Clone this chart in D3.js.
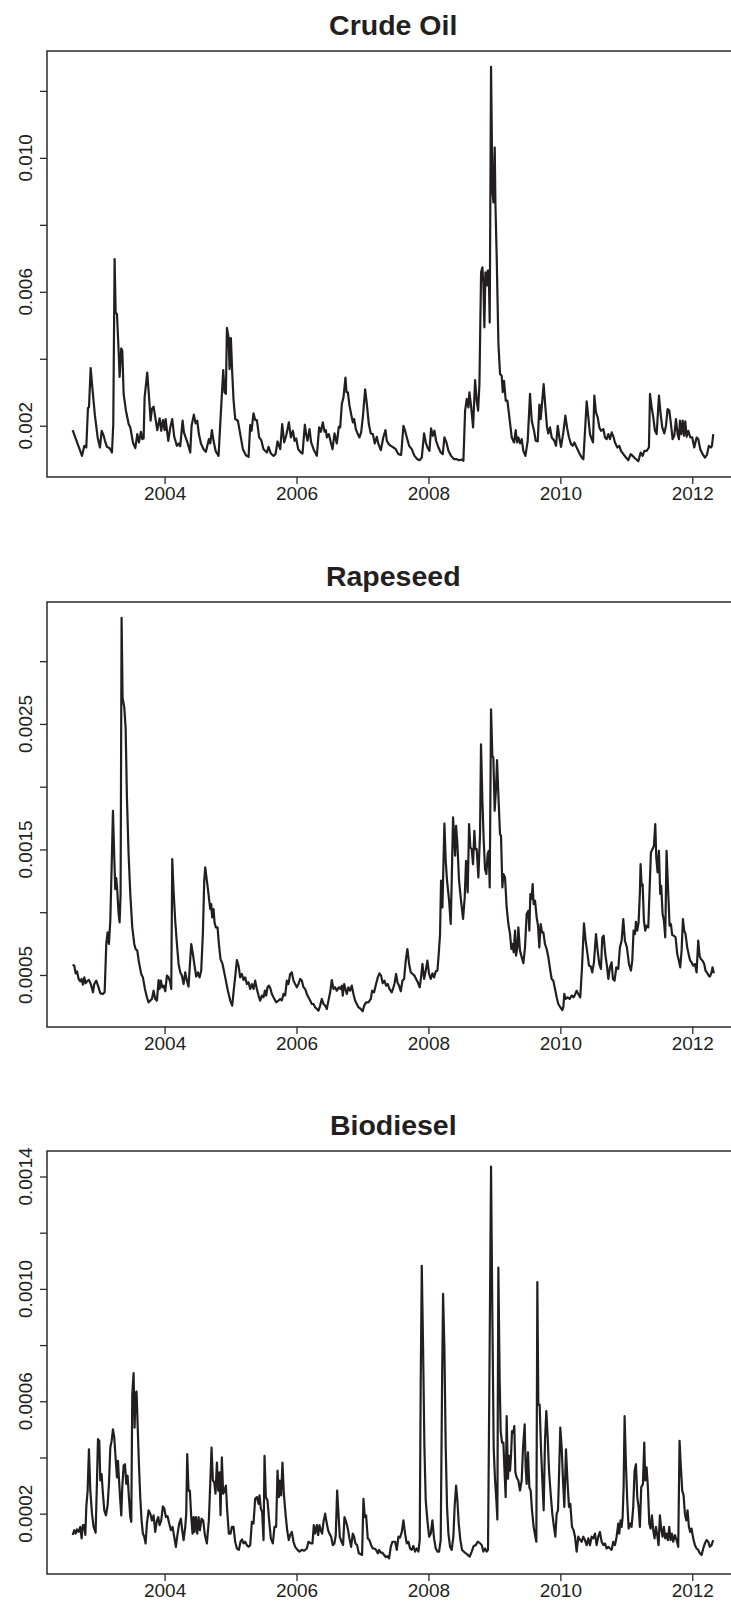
<!DOCTYPE html>
<html>
<head>
<meta charset="utf-8">
<script src="https://cdn.jsdelivr.net/npm/d3@7/dist/d3.min.js"></script>
<style>
  html, body { margin: 0; padding: 0; background: #fff; }
  svg { display: block; font-family: "Liberation Sans", Arial, Helvetica, sans-serif; }
</style>
</head>
<body>
<svg id="chart" width="731" height="1607"></svg>
<script>
// Weekly volatility estimates, [decimal year, value]; values scaled by the unit below.
const CRUDE_UNIT = 1e-3;
const crudeOil = [
[2002.606,1.87],[2002.748,1.10],[2002.783,1.40],[2002.813,1.35],[2002.838,2.53],[2002.854,2.55],[2002.879,3.72],[2002.909,3.04],[2002.944,2.30],[2002.985,1.65],[2003.020,1.35],[2003.046,1.85],[2003.076,1.70],[2003.096,1.55],[2003.126,1.37],[2003.167,1.33],[2003.202,1.20],[2003.222,2.05],[2003.242,6.98],[2003.258,5.38],[2003.278,5.33],[2003.303,4.24],[2003.318,3.46],[2003.343,4.31],[2003.359,4.24],[2003.379,2.95],[2003.414,2.45],[2003.455,2.05],[2003.480,1.95],[2003.520,1.50],[2003.556,1.33],[2003.586,1.75],[2003.611,1.50],[2003.641,1.82],[2003.662,1.60],[2003.682,1.62],[2003.697,2.85],[2003.737,3.59],[2003.768,2.75],[2003.788,2.15],[2003.808,2.50],[2003.833,2.57],[2003.859,2.25],[2003.889,1.87],[2003.924,2.22],[2003.949,1.85],[2003.975,2.17],[2004.000,1.87],[2004.015,2.20],[2004.056,1.55],[2004.086,1.95],[2004.116,2.20],[2004.146,1.67],[2004.187,1.40],[2004.217,1.47],[2004.237,1.39],[2004.273,2.15],[2004.293,1.80],[2004.328,1.60],[2004.354,1.45],[2004.389,1.20],[2004.409,2.00],[2004.444,2.33],[2004.470,2.07],[2004.495,2.15],[2004.520,1.75],[2004.551,1.47],[2004.591,1.30],[2004.626,1.22],[2004.672,1.60],[2004.692,1.47],[2004.717,1.87],[2004.742,1.55],[2004.773,1.25],[2004.818,1.10],[2004.849,2.25],[2004.889,3.66],[2004.909,3.00],[2004.929,2.95],[2004.945,4.92],[2004.970,4.64],[2004.985,3.69],[2005.005,4.62],[2005.025,3.59],[2005.046,2.75],[2005.071,2.20],[2005.111,2.15],[2005.147,1.75],[2005.187,1.30],[2005.232,1.12],[2005.273,1.07],[2005.298,2.02],[2005.318,1.85],[2005.348,2.37],[2005.374,2.17],[2005.399,2.17],[2005.434,1.65],[2005.465,1.57],[2005.500,1.30],[2005.551,1.20],[2005.576,1.37],[2005.611,1.17],[2005.652,1.10],[2005.682,1.15],[2005.712,1.53],[2005.753,1.30],[2005.783,2.05],[2005.813,1.50],[2005.843,1.70],[2005.884,2.10],[2005.914,1.65],[2005.945,1.85],[2005.970,1.55],[2005.995,1.62],[2006.025,1.30],[2006.066,1.20],[2006.091,1.17],[2006.126,2.03],[2006.146,1.75],[2006.167,1.55],[2006.197,1.90],[2006.222,1.50],[2006.258,1.30],[2006.308,1.10],[2006.343,1.95],[2006.369,1.82],[2006.399,2.10],[2006.424,1.82],[2006.445,1.87],[2006.460,1.65],[2006.490,1.75],[2006.520,1.50],[2006.546,1.30],[2006.576,1.77],[2006.611,1.47],[2006.641,1.97],[2006.662,1.95],[2006.687,2.65],[2006.712,2.85],[2006.742,3.44],[2006.758,3.00],[2006.778,3.00],[2006.803,2.60],[2006.833,2.30],[2006.854,2.10],[2006.874,2.20],[2006.899,1.90],[2006.929,1.75],[2006.955,1.65],[2006.980,1.80],[2007.010,2.35],[2007.040,3.09],[2007.066,2.65],[2007.096,2.05],[2007.126,1.77],[2007.157,1.75],[2007.187,1.47],[2007.217,1.67],[2007.242,1.45],[2007.278,1.27],[2007.318,1.67],[2007.349,1.87],[2007.369,1.55],[2007.399,1.45],[2007.429,1.40],[2007.470,1.35],
[2007.505,1.30],[2007.545,1.15],[2007.586,1.13],[2007.621,2.00],[2007.646,1.85],[2007.672,1.65],[2007.707,1.40],[2007.747,1.30],[2007.788,1.10],[2007.833,1.00],[2007.864,0.97],[2007.899,1.05],[2007.934,1.77],[2007.960,1.50],[2007.985,1.35],[2008.015,1.25],[2008.040,1.92],[2008.066,1.70],[2008.091,1.85],[2008.116,1.55],[2008.152,1.35],[2008.187,1.20],[2008.217,1.15],[2008.242,1.65],[2008.273,1.50],[2008.303,1.25],[2008.343,1.10],[2008.389,1.00],[2008.429,1.00],[2008.465,0.97],[2008.505,0.99],[2008.530,0.95],[2008.556,2.45],[2008.581,2.80],[2008.606,2.55],[2008.621,3.00],[2008.646,2.60],[2008.677,1.95],[2008.707,3.36],[2008.732,2.75],[2008.753,2.45],[2008.773,3.24],[2008.798,6.58],[2008.818,6.73],[2008.833,6.23],[2008.848,4.94],[2008.864,6.58],[2008.884,6.18],[2008.899,6.63],[2008.914,6.63],[2008.929,5.08],[2008.949,12.72],[2008.970,9.01],[2008.985,8.67],[2009.005,10.31],[2009.015,8.67],[2009.035,7.02],[2009.061,4.44],[2009.086,3.54],[2009.111,3.49],[2009.126,3.00],[2009.146,3.34],[2009.172,2.75],[2009.197,2.75],[2009.227,2.25],[2009.263,1.65],[2009.298,1.50],[2009.323,1.87],[2009.343,1.50],[2009.364,1.65],[2009.389,1.47],[2009.414,1.60],[2009.439,1.25],[2009.470,1.10],[2009.505,1.55],[2009.540,2.95],[2009.566,2.15],[2009.601,1.85],[2009.626,1.55],[2009.657,1.53],[2009.682,2.63],[2009.702,2.20],[2009.717,2.55],[2009.747,3.24],[2009.773,2.55],[2009.798,1.95],[2009.818,1.77],[2009.843,1.95],[2009.869,1.65],[2009.909,1.55],[2009.934,1.40],[2009.960,2.00],[2009.985,1.65],[2010.010,1.37],[2010.045,1.80],[2010.076,2.30],[2010.101,1.95],[2010.131,1.65],[2010.162,1.45],[2010.187,1.40],[2010.212,1.50],[2010.247,1.35],[2010.283,1.20],[2010.323,1.05],[2010.349,1.00],[2010.374,1.85],[2010.399,2.73],[2010.424,2.25],[2010.449,1.75],[2010.475,1.60],[2010.495,1.50],[2010.515,2.90],[2010.540,2.40],[2010.566,2.25],[2010.591,1.95],[2010.616,1.85],[2010.652,1.90],[2010.677,1.65],[2010.702,1.60],[2010.727,1.75],[2010.752,1.60],[2010.778,1.80],[2010.808,1.65],[2010.828,1.50],[2010.864,1.35],[2010.894,1.40],[2010.919,1.25],[2010.955,1.15],[2010.995,1.05],[2011.030,0.97],[2011.066,1.15],[2011.096,1.10],[2011.131,1.03],[2011.182,0.94],[2011.217,1.20],[2011.247,1.10],[2011.273,1.25],[2011.308,1.25],[2011.343,1.35],[2011.359,2.95],[2011.384,2.55],[2011.409,2.25],[2011.434,1.85],[2011.460,1.75],[2011.495,2.90],[2011.520,2.35],[2011.545,1.95],[2011.576,1.77],[2011.601,2.00],[2011.626,2.50],[2011.652,2.45],[2011.677,2.05],[2011.702,1.60],[2011.727,1.70],[2011.752,2.20],[2011.778,1.75],[2011.798,1.60],[2011.813,2.15],[2011.833,1.75],[2011.854,2.15],[2011.874,1.70],[2011.894,2.13],[2011.914,1.67],[2011.939,1.85],[2011.970,1.65],[2012.000,1.65],[2012.030,1.35],[2012.066,1.65],[2012.091,1.60],[2012.121,1.30],[2012.157,1.15],[2012.192,1.05],[2012.222,1.13],[2012.252,1.40],[2012.283,1.35],[2012.298,1.40],[2012.318,1.75]
];

const RAPESEED_UNIT = 1e-4;
const rapeseed = [
[2002.606,5.82],[2002.631,5.74],[2002.651,5.13],[2002.672,5.29],[2002.697,4.68],[2002.722,4.50],[2002.742,4.68],[2002.762,4.23],[2002.783,4.81],[2002.803,4.34],[2002.833,4.55],[2002.853,4.60],[2002.884,4.23],[2002.914,3.62],[2002.934,4.28],[2002.964,4.55],[2002.995,4.07],[2003.025,3.54],[2003.065,3.49],[2003.091,3.62],[2003.116,7.47],[2003.136,8.40],[2003.156,7.47],[2003.177,9.32],[2003.197,13.57],[2003.217,18.08],[2003.237,14.36],[2003.252,11.84],[2003.267,12.72],[2003.283,11.71],[2003.303,9.85],[2003.318,9.19],[2003.333,11.45],[2003.348,33.46],[2003.363,27.10],[2003.389,26.30],[2003.409,24.71],[2003.429,19.14],[2003.454,14.63],[2003.480,11.45],[2003.510,8.79],[2003.540,7.47],[2003.560,7.07],[2003.586,6.94],[2003.611,6.01],[2003.646,5.08],[2003.671,4.81],[2003.702,3.89],[2003.732,3.22],[2003.757,2.82],[2003.783,2.96],[2003.808,3.09],[2003.833,3.75],[2003.858,3.09],[2003.884,2.96],[2003.909,4.60],[2003.924,3.89],[2003.944,4.55],[2003.964,4.02],[2003.985,4.15],[2004.010,3.70],[2004.035,4.95],[2004.060,4.81],[2004.086,4.42],[2004.101,3.89],[2004.116,14.23],[2004.136,11.71],[2004.161,9.32],[2004.187,7.47],[2004.212,5.88],[2004.237,5.21],[2004.262,4.95],[2004.288,4.28],[2004.313,5.21],[2004.338,4.55],[2004.363,4.07],[2004.389,6.27],[2004.404,7.47],[2004.429,6.67],[2004.454,5.74],[2004.479,4.87],[2004.505,5.21],[2004.530,4.81],[2004.555,5.34],[2004.580,8.26],[2004.601,12.51],[2004.616,13.57],[2004.641,12.51],[2004.666,11.45],[2004.692,10.25],[2004.707,10.65],[2004.722,9.59],[2004.742,10.25],[2004.757,9.19],[2004.777,8.79],[2004.803,8.79],[2004.823,7.47],[2004.848,6.27],[2004.878,5.88],[2004.904,5.21],[2004.929,4.55],[2004.959,3.75],[2004.995,2.96],[2005.025,2.56],[2005.045,3.62],[2005.075,5.08],[2005.096,6.19],[2005.121,5.74],[2005.146,4.81],[2005.171,5.08],[2005.197,4.60],[2005.222,4.81],[2005.247,4.28],[2005.272,4.42],[2005.298,3.89],[2005.323,4.28],[2005.348,3.89],[2005.373,4.55],[2005.399,3.89],[2005.424,3.36],[2005.449,2.96],[2005.474,3.36],[2005.500,3.22],[2005.520,3.75],[2005.540,3.36],[2005.560,4.02],[2005.580,4.15],[2005.601,3.97],[2005.626,3.49],[2005.651,3.22],[2005.691,2.82],[2005.727,2.96],[2005.752,3.09],[2005.777,2.96],[2005.803,3.49],[2005.828,3.36],[2005.853,4.55],[2005.878,4.28],[2005.904,5.08],[2005.929,5.21],[2005.954,4.55],[2005.979,4.28],[2006.005,4.02],[2006.030,4.28],[2006.055,4.68],[2006.080,4.55],[2006.106,4.02],[2006.131,3.89],[2006.156,3.49],[2006.181,3.22],[2006.207,2.96],[2006.232,2.69],[2006.257,2.69],[2006.282,2.43],[2006.308,2.29],[2006.333,2.16],[2006.358,2.56],[2006.383,3.09],[2006.409,2.69],[2006.434,2.56],[2006.459,2.29],[2006.484,2.96],[2006.510,3.62],[2006.535,4.60],[2006.560,3.89],[2006.585,4.02],[2006.611,3.75],[2006.641,4.02],[2006.661,3.89],[2006.686,4.15],[2006.701,3.36],[2006.722,4.28],[2006.742,3.89],[2006.762,3.49],[2006.787,4.02],[2006.813,3.75],[2006.838,4.15],[2006.863,3.49],[2006.888,2.96],[2006.914,2.69],[2006.939,2.43],[2006.974,2.29],[2007.004,2.11],[2007.025,2.56],[2007.055,2.82],[2007.090,2.82],[2007.126,3.09],[2007.146,3.75],[2007.176,3.62],[2007.206,4.28],[2007.232,4.81],[2007.257,5.13],[2007.282,4.95],[2007.307,4.34],[2007.333,4.55],[2007.358,4.15],[2007.383,4.28],[2007.408,3.89],[2007.444,3.62],[2007.469,4.02],
[2007.484,4.28],[2007.510,5.08],[2007.530,4.42],[2007.555,4.15],[2007.580,3.70],[2007.606,4.55],[2007.631,4.68],[2007.656,6.14],[2007.681,7.07],[2007.707,5.88],[2007.732,5.21],[2007.762,5.08],[2007.787,4.95],[2007.813,4.68],[2007.838,4.42],[2007.868,4.02],[2007.888,4.81],[2007.909,5.88],[2007.934,4.68],[2007.959,5.34],[2007.984,6.14],[2008.010,5.08],[2008.035,4.68],[2008.060,5.13],[2008.085,4.81],[2008.111,5.29],[2008.136,5.34],[2008.156,6.67],[2008.176,8.26],[2008.191,12.51],[2008.212,10.38],[2008.242,17.07],[2008.262,14.10],[2008.282,12.51],[2008.313,10.92],[2008.338,9.06],[2008.353,12.51],[2008.373,17.55],[2008.388,16.22],[2008.404,14.50],[2008.419,16.88],[2008.439,15.42],[2008.464,12.51],[2008.494,10.92],[2008.525,9.46],[2008.550,11.18],[2008.570,14.10],[2008.595,11.58],[2008.616,17.02],[2008.636,15.16],[2008.656,15.03],[2008.676,13.83],[2008.696,16.49],[2008.712,15.03],[2008.732,15.03],[2008.757,12.77],[2008.782,16.22],[2008.797,23.38],[2008.818,18.87],[2008.838,15.69],[2008.858,13.43],[2008.878,13.04],[2008.898,14.63],[2008.914,14.89],[2008.929,11.98],[2008.949,26.17],[2008.969,22.45],[2008.984,22.32],[2009.004,18.08],[2009.025,19.93],[2009.040,22.11],[2009.060,19.40],[2009.085,16.22],[2009.100,16.09],[2009.121,11.98],[2009.136,13.04],[2009.161,12.77],[2009.186,10.38],[2009.212,9.06],[2009.237,8.26],[2009.257,7.07],[2009.277,7.47],[2009.292,6.80],[2009.313,8.53],[2009.328,6.54],[2009.348,7.20],[2009.363,8.79],[2009.388,6.94],[2009.414,6.41],[2009.439,5.93],[2009.464,7.20],[2009.489,9.85],[2009.515,10.12],[2009.530,8.53],[2009.545,11.45],[2009.565,11.05],[2009.580,12.24],[2009.595,10.65],[2009.616,10.92],[2009.641,9.59],[2009.661,8.93],[2009.681,7.20],[2009.701,9.06],[2009.722,8.40],[2009.742,8.40],[2009.767,7.47],[2009.792,7.07],[2009.818,6.41],[2009.848,5.34],[2009.868,4.68],[2009.893,4.55],[2009.919,3.89],[2009.944,3.22],[2009.969,2.69],[2009.999,2.43],[2010.030,2.21],[2010.045,2.43],[2010.060,3.49],[2010.080,3.09],[2010.110,3.22],[2010.141,3.09],[2010.171,3.36],[2010.201,3.22],[2010.222,3.43],[2010.247,3.75],[2010.272,3.49],[2010.302,3.22],[2010.328,5.61],[2010.358,9.11],[2010.383,7.73],[2010.408,6.80],[2010.434,5.74],[2010.459,5.69],[2010.484,5.21],[2010.509,6.01],[2010.540,8.26],[2010.565,6.94],[2010.590,5.88],[2010.615,5.48],[2010.636,8.00],[2010.656,8.13],[2010.681,6.67],[2010.706,5.74],[2010.727,4.68],[2010.752,5.61],[2010.777,6.01],[2010.797,4.68],[2010.822,4.55],[2010.848,5.61],[2010.878,5.48],[2010.903,7.20],[2010.929,7.73],[2010.954,9.46],[2010.979,7.73],[2011.009,7.20],[2011.040,5.88],[2011.070,5.34],[2011.090,6.14],[2011.110,8.53],[2011.131,8.26],[2011.146,9.24],[2011.166,8.53],[2011.186,9.19],[2011.206,11.58],[2011.216,13.83],[2011.232,12.11],[2011.247,12.24],[2011.267,9.32],[2011.287,8.53],[2011.307,8.93],[2011.333,8.79],[2011.353,11.84],[2011.373,14.76],[2011.398,15.03],[2011.418,15.29],[2011.439,17.02],[2011.454,14.36],[2011.474,13.17],[2011.494,14.89],[2011.514,11.45],[2011.529,12.11],[2011.550,9.85],[2011.570,9.32],[2011.590,8.00],[2011.610,14.89],[2011.636,11.45],[2011.656,8.93],[2011.676,9.06],[2011.696,8.18],[2011.721,8.13],[2011.747,8.00],[2011.772,6.67],[2011.797,6.14],[2011.817,5.61],[2011.838,6.94],[2011.858,9.46],[2011.878,8.53],[2011.898,8.26],[2011.923,7.20],[2011.949,6.54],[2011.969,6.14],[2011.989,6.01],[2012.014,5.74],[2012.040,5.88],[2012.065,5.21],[2012.090,7.73],[2012.110,6.54],[2012.130,6.27],[2012.156,6.14],[2012.181,5.88],[2012.201,5.34],[2012.221,5.21],[2012.247,4.95],[2012.267,4.87],[2012.292,5.21],[2012.307,5.61],[2012.327,5.13]
];

const BIODIESEL_UNIT = 1e-4;
const biodiesel = [
[2002.606,1.24],[2002.631,1.41],[2002.651,1.29],[2002.672,1.44],[2002.697,1.35],[2002.722,1.53],[2002.742,1.12],[2002.762,1.59],[2002.783,1.59],[2002.798,1.24],[2002.813,2.24],[2002.833,2.82],[2002.853,4.29],[2002.874,2.82],[2002.899,2.00],[2002.924,1.53],[2002.954,1.32],[2002.975,3.18],[2002.990,4.65],[2003.010,4.59],[2003.025,3.18],[2003.045,3.41],[2003.065,2.71],[2003.086,2.12],[2003.111,1.94],[2003.136,2.29],[2003.156,3.06],[2003.177,4.35],[2003.197,4.59],[2003.217,5.00],[2003.237,4.71],[2003.257,4.00],[2003.278,3.29],[2003.293,3.88],[2003.308,3.24],[2003.328,2.47],[2003.343,1.94],[2003.358,2.94],[2003.379,3.71],[2003.399,3.76],[2003.419,3.06],[2003.439,3.35],[2003.459,2.59],[2003.480,1.88],[2003.495,1.71],[2003.510,6.24],[2003.530,7.00],[2003.545,5.06],[2003.560,6.29],[2003.575,6.35],[2003.591,5.18],[2003.611,3.76],[2003.631,2.59],[2003.651,1.76],[2003.671,1.29],[2003.692,1.18],[2003.712,0.94],[2003.732,1.65],[2003.757,2.12],[2003.783,2.00],[2003.808,1.76],[2003.833,1.94],[2003.858,1.35],[2003.884,1.76],[2003.904,1.88],[2003.924,1.59],[2003.949,1.76],[2003.974,2.26],[2003.995,2.18],[2004.020,1.88],[2004.045,1.91],[2004.070,1.65],[2004.096,1.41],[2004.121,1.53],[2004.146,1.18],[2004.171,0.82],[2004.197,1.29],[2004.222,1.65],[2004.247,1.82],[2004.267,1.41],[2004.288,1.06],[2004.313,1.53],[2004.328,2.00],[2004.343,4.12],[2004.363,2.82],[2004.383,2.82],[2004.404,1.88],[2004.424,1.29],[2004.439,1.88],[2004.454,1.35],[2004.474,1.88],[2004.495,1.29],[2004.515,1.88],[2004.535,1.41],[2004.560,1.82],[2004.585,1.76],[2004.611,1.24],[2004.641,0.94],[2004.671,1.76],[2004.692,3.06],[2004.712,4.35],[2004.732,3.18],[2004.752,3.12],[2004.772,2.71],[2004.793,3.82],[2004.813,2.82],[2004.833,3.47],[2004.848,1.94],[2004.868,4.00],[2004.888,2.71],[2004.909,2.82],[2004.929,3.00],[2004.949,2.12],[2004.974,1.29],[2005.000,1.29],[2005.020,1.53],[2005.045,1.53],[2005.070,1.00],[2005.096,0.76],[2005.126,0.71],[2005.151,1.00],[2005.176,1.08],[2005.197,0.94],[2005.222,1.00],[2005.247,0.88],[2005.272,0.82],[2005.298,0.88],[2005.323,1.71],[2005.348,1.65],[2005.373,2.53],[2005.399,2.59],[2005.424,2.35],[2005.439,2.65],[2005.459,2.18],[2005.479,2.06],[2005.500,1.06],[2005.515,4.06],[2005.535,2.59],[2005.560,2.47],[2005.585,1.76],[2005.611,1.12],[2005.641,0.94],[2005.666,1.53],[2005.691,1.53],[2005.712,3.53],[2005.732,2.59],[2005.747,3.18],[2005.767,2.65],[2005.787,3.82],[2005.808,2.71],[2005.833,2.00],[2005.858,1.41],[2005.883,1.06],[2005.904,1.24],[2005.929,1.35],[2005.954,1.00],[2005.979,0.82],[2006.015,0.71],[2006.045,0.65],[2006.080,0.71],[2006.116,0.68],[2006.156,0.76],[2006.181,1.00],[2006.217,0.94],[2006.242,0.94],[2006.262,1.59],[2006.282,1.29],[2006.308,1.59],[2006.328,1.24],[2006.348,1.59],[2006.368,1.41],[2006.388,1.29],[2006.409,1.71],[2006.434,2.00],[2006.454,1.71],[2006.479,1.41],[2006.499,1.29],[2006.525,1.18],[2006.550,0.88],[2006.575,0.94],[2006.595,1.24],[2006.616,2.82],[2006.636,2.00],[2006.656,1.18],[2006.681,1.00],[2006.706,0.88],[2006.727,1.88],[2006.752,1.71],[2006.777,1.47],[2006.802,1.12],[2006.828,0.82],[2006.853,1.29],[2006.873,1.18],[2006.893,0.94],[2006.919,0.88],[2006.944,0.59],[2006.974,0.56],[2006.994,0.53],[2007.015,2.53],[2007.035,1.88],[2007.055,1.94],[2007.080,1.12],[2007.105,1.06],[2007.131,0.88],[2007.156,0.76],[2007.181,0.76],[2007.206,0.71],[2007.232,0.59],[2007.252,0.71],[2007.277,0.61],[2007.302,0.61],[2007.328,0.53],[2007.353,0.45],[2007.378,0.49],[2007.403,0.41],[2007.429,0.82],[2007.454,1.00],[2007.479,1.00],
[2007.495,1.00],[2007.520,0.71],[2007.545,1.18],[2007.570,1.15],[2007.596,1.35],[2007.621,1.76],[2007.646,1.29],[2007.671,0.94],[2007.697,1.00],[2007.722,0.76],[2007.747,0.71],[2007.772,0.85],[2007.798,0.65],[2007.823,0.76],[2007.848,0.65],[2007.868,1.06],[2007.883,6.71],[2007.899,10.82],[2007.919,7.88],[2007.939,4.35],[2007.959,2.47],[2007.984,1.76],[2008.010,1.18],[2008.035,1.29],[2008.060,1.76],[2008.085,1.12],[2008.111,0.76],[2008.136,0.65],[2008.161,0.65],[2008.186,1.06],[2008.207,6.71],[2008.222,9.82],[2008.242,7.88],[2008.262,4.35],[2008.282,2.24],[2008.303,1.29],[2008.328,0.82],[2008.353,0.71],[2008.378,1.18],[2008.398,2.29],[2008.419,3.00],[2008.439,2.47],[2008.459,1.65],[2008.484,1.06],[2008.510,0.71],[2008.535,0.65],[2008.565,0.59],[2008.595,0.53],[2008.626,0.47],[2008.656,0.65],[2008.686,0.85],[2008.717,0.88],[2008.747,1.00],[2008.777,0.96],[2008.808,0.88],[2008.833,0.65],[2008.858,0.76],[2008.883,0.65],[2008.903,0.71],[2008.924,6.71],[2008.949,14.35],[2008.969,9.06],[2008.989,4.35],[2009.010,3.18],[2009.030,2.47],[2009.045,1.79],[2009.060,10.76],[2009.080,6.71],[2009.095,4.94],[2009.116,4.53],[2009.136,4.53],[2009.151,3.65],[2009.171,2.59],[2009.186,5.47],[2009.206,3.24],[2009.222,4.06],[2009.237,3.53],[2009.252,4.06],[2009.267,4.94],[2009.287,4.88],[2009.302,5.12],[2009.318,3.47],[2009.338,3.29],[2009.363,3.18],[2009.388,2.82],[2009.414,3.18],[2009.434,4.35],[2009.459,5.18],[2009.474,3.65],[2009.489,3.06],[2009.509,4.18],[2009.530,2.94],[2009.550,2.82],[2009.570,2.12],[2009.595,1.53],[2009.616,1.24],[2009.636,1.00],[2009.651,10.24],[2009.666,5.88],[2009.686,5.88],[2009.706,4.35],[2009.727,3.18],[2009.747,2.12],[2009.767,4.59],[2009.787,5.65],[2009.807,4.76],[2009.828,3.53],[2009.853,2.71],[2009.878,2.00],[2009.903,1.53],[2009.924,1.18],[2009.944,2.00],[2009.964,2.12],[2009.979,3.29],[2009.999,5.06],[2010.020,4.35],[2010.040,3.18],[2010.060,2.24],[2010.085,4.29],[2010.110,3.06],[2010.131,2.24],[2010.151,2.35],[2010.176,1.53],[2010.201,1.41],[2010.222,1.18],[2010.247,0.65],[2010.272,1.18],[2010.297,1.08],[2010.323,1.00],[2010.348,1.18],[2010.373,1.06],[2010.398,0.88],[2010.424,1.12],[2010.449,0.88],[2010.474,1.18],[2010.499,1.12],[2010.525,1.29],[2010.550,0.88],[2010.575,1.18],[2010.600,1.35],[2010.626,1.00],[2010.651,0.88],[2010.676,0.94],[2010.701,0.76],[2010.727,0.82],[2010.752,0.76],[2010.777,0.71],[2010.802,1.00],[2010.828,0.88],[2010.853,1.18],[2010.878,1.65],[2010.893,1.29],[2010.913,1.76],[2010.929,1.53],[2010.944,1.88],[2010.959,2.94],[2010.974,5.47],[2010.994,3.76],[2011.014,2.47],[2011.035,1.47],[2011.060,1.65],[2011.080,1.53],[2011.105,2.24],[2011.125,3.53],[2011.146,3.76],[2011.166,2.59],[2011.186,2.24],[2011.206,1.53],[2011.226,2.94],[2011.252,3.06],[2011.272,4.53],[2011.287,3.18],[2011.307,3.65],[2011.327,2.94],[2011.348,1.65],[2011.368,1.47],[2011.388,1.94],[2011.408,1.41],[2011.428,1.12],[2011.449,1.53],[2011.469,1.24],[2011.489,0.88],[2011.509,1.94],[2011.529,1.47],[2011.550,1.18],[2011.570,1.53],[2011.590,1.12],[2011.610,1.29],[2011.630,1.06],[2011.651,1.53],[2011.671,1.06],[2011.691,1.29],[2011.711,1.00],[2011.737,1.24],[2011.762,1.06],[2011.787,0.82],[2011.807,4.59],[2011.827,3.65],[2011.848,2.82],[2011.868,2.65],[2011.888,2.00],[2011.908,1.76],[2011.928,2.12],[2011.949,1.53],[2011.969,1.35],[2011.989,1.47],[2012.014,1.12],[2012.040,0.88],[2012.065,0.76],[2012.090,0.71],[2012.115,0.59],[2012.141,0.53],[2012.166,0.76],[2012.191,0.94],[2012.216,1.06],[2012.242,1.00],[2012.267,0.82],[2012.292,0.88],[2012.317,1.06]
];

// Axis ticks and which of them carry a printed label.
const yearTicks = [2004, 2006, 2008, 2010, 2012];
const crudeTicks = [0.002, 0.004, 0.006, 0.008, 0.010, 0.012];
const crudeLabels = [0.002, 0.006, 0.010];
const rapeseedTicks = [0.0005, 0.0010, 0.0015, 0.0020, 0.0025, 0.0030];
const rapeseedLabels = [0.0005, 0.0015, 0.0025];
const biodieselTicks = [0.0002, 0.0004, 0.0006, 0.0008, 0.0010, 0.0012, 0.0014];
const biodieselLabels = [0.0002, 0.0006, 0.0010, 0.0014];
const titles = ["Crude Oil", "Rapeseed", "Biodiesel"];

const panels = [
  { title: titles[0], data: crudeOil, unit: CRUDE_UNIT, ticks: crudeTicks, labels: crudeLabels, fmt: d3.format(".3f"), top: 51, height: 426 },
  { title: titles[1], data: rapeseed, unit: RAPESEED_UNIT, ticks: rapeseedTicks, labels: rapeseedLabels, fmt: d3.format(".4f"), top: 602, height: 425 },
  { title: titles[2], data: biodiesel, unit: BIODIESEL_UNIT, ticks: biodieselTicks, labels: biodieselLabels, fmt: d3.format(".4f"), top: 1151, height: 423 }
];

const INK = "#231f20";
const plotLeft = 47, plotRight = 739.5;

// R-style axis range: data extent widened by 4% on each side.
function padded(ext) {
  const p = (ext[1] - ext[0]) * 0.04;
  return [ext[0] - p, ext[1] + p];
}

const allYears = panels.flatMap(p => p.data.map(d => d[0]));
const x = d3.scaleLinear().domain(padded(d3.extent(allYears))).range([plotLeft, plotRight]);

const svg = d3.select("#chart");
svg.append("rect").attr("width", 731).attr("height", 1607).attr("fill", "#fff");

panels.forEach(p => {
  const values = p.data.map(d => [d[0], d[1] * p.unit]);
  const bottom = p.top + p.height;
  const y = d3.scaleLinear().domain(padded(d3.extent(values, d => d[1]))).range([bottom, p.top]);
  const g = svg.append("g");

  // series line
  g.append("path")
    .datum(values)
    .attr("fill", "none")
    .attr("stroke", INK)
    .attr("stroke-width", 2.2)
    .attr("stroke-linejoin", "round")
    .attr("d", d3.line().x(d => x(d[0])).y(d => y(d[1])));

  // frame
  g.append("rect")
    .attr("x", plotLeft).attr("y", p.top)
    .attr("width", plotRight - plotLeft).attr("height", p.height)
    .attr("fill", "none").attr("stroke", "#2a2a2a").attr("stroke-width", 1.5);

  // x axis
  const xa = g.append("g")
    .attr("transform", `translate(0,${bottom})`)
    .call(d3.axisBottom(x).tickValues(yearTicks).tickSize(7).tickPadding(3).tickFormat(d3.format("d")));
  xa.select(".domain").remove();
  xa.selectAll("line").attr("stroke", "#2a2a2a").attr("stroke-width", 1.3);
  xa.selectAll("text").attr("fill", INK).style("font-size", "19px");

  // y axis: tick marks from the library, labels rotated to read upward
  const ya = g.append("g")
    .attr("transform", `translate(${plotLeft},0)`)
    .call(d3.axisLeft(y).tickValues(p.ticks).tickSize(7).tickFormat(""));
  ya.select(".domain").remove();
  ya.selectAll("line").attr("stroke", "#2a2a2a").attr("stroke-width", 1.3);

  g.selectAll(".ylab")
    .data(p.labels)
    .join("text")
    .attr("class", "ylab")
    .attr("transform", d => `translate(${plotLeft - 15.5},${y(d)}) rotate(-90)`)
    .attr("text-anchor", "middle")
    .attr("fill", INK)
    .style("font-size", "19px")
    .text(d => p.fmt(d));

  // title
  g.append("text")
    .attr("x", (plotLeft + plotRight) / 2)
    .attr("y", p.top - 16)
    .attr("text-anchor", "middle")
    .attr("fill", INK)
    .style("font-size", "28.5px")
    .style("font-weight", "bold")
    .text(p.title);
});
</script>
</body>
</html>
